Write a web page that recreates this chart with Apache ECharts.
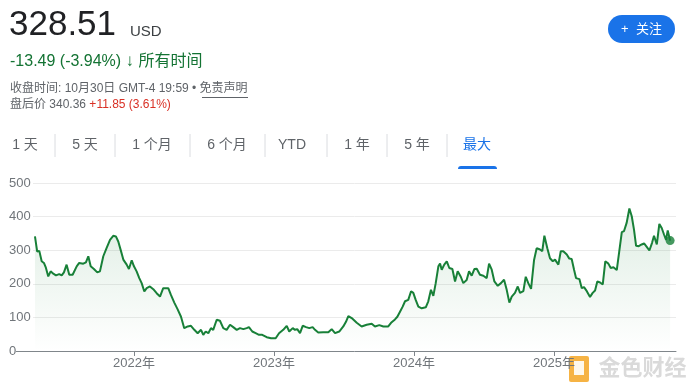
<!DOCTYPE html>
<html>
<head>
<meta charset="utf-8">
<script src="https://cdn.jsdelivr.net/npm/echarts@6/dist/echarts.min.js"></script>
<style>
html,body{margin:0;padding:0;background:#fff;}
#chart{width:700px;height:387px;}
</style>
</head>
<body>
<div id="chart"></div>
<script>
// ---- data (time as decimal year, price in USD) ----
const years = [
2021.293,2021.309,2021.324,2021.341,2021.357,2021.371,2021.388,2021.405,2021.424,2021.443,
2021.466,2021.484,2021.500,2021.519,2021.538,2021.562,2021.591,2021.609,2021.638,2021.657,
2021.674,2021.691,2021.714,2021.738,2021.757,2021.781,2021.805,2021.829,2021.852,2021.871,
2021.888,2021.905,2021.924,2021.948,2021.964,2021.984,2022.000,2022.019,2022.038,2022.055,
2022.074,2022.091,2022.114,2022.138,2022.162,2022.186,2022.209,2022.245,2022.264,2022.288,
2022.312,2022.336,2022.359,2022.384,2022.407,2022.431,2022.455,2022.479,2022.495,2022.512,
2022.531,2022.550,2022.566,2022.591,2022.614,2022.638,2022.662,2022.686,2022.709,2022.734,
2022.757,2022.781,2022.805,2022.821,2022.845,2022.869,2022.893,2022.916,2022.948,2022.979,
2023.012,2023.036,2023.066,2023.091,2023.109,2023.134,2023.150,2023.166,2023.186,2023.205,
2023.229,2023.252,2023.276,2023.293,2023.316,2023.352,2023.388,2023.412,2023.436,2023.466,
2023.495,2023.514,2023.531,2023.555,2023.591,2023.626,2023.662,2023.698,2023.721,2023.752,
2023.781,2023.816,2023.836,2023.864,2023.881,2023.900,2023.919,2023.936,2023.959,2023.979,
2023.995,2024.012,2024.031,2024.055,2024.084,2024.102,2024.121,2024.138,2024.155,2024.174,
2024.186,2024.198,2024.216,2024.234,2024.252,2024.274,2024.293,2024.312,2024.334,2024.352,
2024.376,2024.393,2024.412,2024.431,2024.448,2024.471,2024.495,2024.519,2024.536,2024.555,
2024.574,2024.598,2024.621,2024.643,2024.662,2024.681,2024.698,2024.721,2024.741,2024.757,
2024.781,2024.798,2024.816,2024.836,2024.857,2024.876,2024.900,2024.916,2024.931,2024.952,
2024.971,2024.991,2025.007,2025.031,2025.048,2025.066,2025.091,2025.109,2025.126,2025.143,
2025.157,2025.181,2025.198,2025.214,2025.234,2025.257,2025.276,2025.293,2025.309,2025.329,
2025.348,2025.366,2025.388,2025.405,2025.424,2025.448,2025.466,2025.484,2025.500,2025.519,
2025.538,2025.555,2025.571,2025.586,2025.605,2025.626,2025.643,2025.662,2025.681,2025.700,
2025.714,2025.734,2025.752,2025.769,2025.786,2025.800,2025.812,2025.829
];
const prices = [
341,296,298,267,262,248,222,237,230,225,
229,225,234,257,227,227,252,262,260,264,
282,252,244,234,237,282,307,331,343,341,
326,301,272,257,244,270,252,237,217,202,
177,187,192,184,172,162,187,187,167,144,
124,102,68,73,75,63,53,63,48,58,
53,68,63,93,90,68,63,78,71,63,
68,65,68,71,58,53,48,48,41,38,
38,53,63,75,58,68,63,65,53,75,
71,68,71,63,55,56,56,65,53,58,
73,87,104,98,84,73,78,81,73,77,
73,73,84,94,102,117,132,148,152,178,
173,152,132,127,130,148,182,164,202,252,
260,242,257,267,247,244,207,237,221,202,
211,237,224,244,245,227,224,217,260,242,
207,194,202,212,182,144,162,173,192,173,
178,221,202,185,270,306,302,297,343,306,
276,267,272,257,297,297,287,275,274,242,
217,214,187,190,178,161,173,180,207,204,
198,267,260,247,249,241,297,354,357,382,
424,401,361,313,312,317,320,310,299,322,
343,317,378,366,346,331,359,328.51
];
const yearTicks = [2022, 2023, 2024, 2025];
const tabLabels = ['1 天', '5 天', '1 个月', '6 个月', 'YTD', '1 年', '5 年', '最大'];

// ---- header texts ----
const priceText = '328.51';
const currency = 'USD';
const changeText = '-13.49 (-3.94%)';
const periodText = '所有时间';
const closeText = '收盘时间: 10月30日 GMT-4 19:59 • ';
const disclaimer = '免责声明';
const afterLabel = '盘后价 340.36 ';
const afterChange = '+11.85 (3.61%)';

const FONT = 'Arial, "Liberation Sans", "Noto Sans CJK SC", sans-serif';
const GREEN = '#188038';
const chart = echarts.init(document.getElementById('chart'), null, {renderer: 'canvas'});

const tabCenters = [25, 85, 152, 227, 292, 357, 417, 477];
const sepX = [55, 115, 190, 265, 327, 387, 447];

const graphics = [
  {type: 'text', left: 9, top: 8, style: {text: priceText, font: '35px ' + FONT, fill: '#202124'}},
  {type: 'text', left: 130, top: 24, style: {text: currency, font: '15px ' + FONT, fill: '#3c4043'}},
  {type: 'text', left: 10, top: 53, style: {
    text: '{a|' + changeText + ' }{b|↓}{a| ' + periodText + '}',
    rich: {a: {font: '16px ' + FONT, fill: '#137333'}, b: {font: 'bold 17px ' + FONT, fill: '#137333'}}
  }},
  {type: 'text', left: 10, top: 83, style: {text: closeText + disclaimer, font: '12px ' + FONT, fill: '#5f6368'}},
  {type: 'line', shape: {x1: 202, y1: 97.5, x2: 248, y2: 97.5}, style: {stroke: '#5f6368', lineWidth: 1}},
  {type: 'text', left: 10, top: 99, style: {
    text: '{a|' + afterLabel + '}{b|' + afterChange + '}',
    rich: {a: {font: '12px ' + FONT, fill: '#5f6368'}, b: {font: '12px ' + FONT, fill: '#d93025'}}
  }},
  // follow button
  {type: 'rect', shape: {x: 608, y: 15, width: 67, height: 28, r: 14}, style: {fill: '#1a73e8'}},
  {type: 'text', x: 641.5, y: 29, style: {text: '+  关注', font: '13px ' + FONT, fill: '#fff', align: 'center', verticalAlign: 'middle'}},
  // active tab underline
  {type: 'rect', shape: {x: 458, y: 166, width: 39, height: 3, r: [3, 3, 0, 0]}, style: {fill: '#1a73e8'}},
  // axis line extension to left
  {type: 'line', shape: {x1: 16, y1: 351.5, x2: 33, y2: 351.5}, style: {stroke: '#80868b', lineWidth: 1}},
  // watermark
  {type: 'rect', shape: {x: 569, y: 356, width: 20, height: 26, r: 2}, style: {fill: '#f5a623', opacity: 0.85}},
  {type: 'rect', shape: {x: 574, y: 361, width: 10, height: 14}, style: {fill: '#fff', opacity: 0.9}},
  {type: 'text', left: 598, top: 357, style: {text: '金色财经', font: 'bold 22px ' + FONT, fill: '#dadada', stroke: '#fff', lineWidth: 1}}
];
tabLabels.forEach((t, i) => {
  graphics.push({type: 'text', x: tabCenters[i], y: 145, style: {
    text: t, font: '14px ' + FONT, fill: i === tabLabels.length - 1 ? '#1a73e8' : '#5f6368',
    align: 'center', verticalAlign: 'middle'}});
});
sepX.forEach(x => {
  graphics.push({type: 'line', shape: {x1: x, y1: 134, x2: x, y2: 157}, style: {stroke: '#dadce0', lineWidth: 1}});
});

const seriesData = years.map((t, i) => [t, prices[i]]);
const last = seriesData[seriesData.length - 1];

chart.setOption({
  animation: false,
  backgroundColor: '#fff',
  grid: {left: 33, right: 24, top: 183, bottom: 36},
  xAxis: {
    type: 'value', min: 2021.279, max: 2025.871,
    axisLine: {show: true, lineStyle: {color: '#80868b', width: 1}},
    axisTick: {show: true, length: 5, lineStyle: {color: '#80868b'}, customValues: yearTicks},
    axisLabel: {customValues: yearTicks, formatter: v => v + '年', color: '#70757a', fontSize: 13, fontFamily: FONT, margin: 6},
    splitLine: {show: false}
  },
  yAxis: {
    type: 'value', min: 0, max: 500, interval: 100,
    axisLine: {show: false}, axisTick: {show: false},
    axisLabel: {color: '#70757a', fontSize: 13, fontFamily: FONT, align: 'left', margin: 24},
    splitLine: {lineStyle: {color: '#ebebeb', width: 1}}
  },
  series: [
    {
      type: 'line', data: seriesData, showSymbol: false, symbol: 'none', smooth: false,
      lineStyle: {color: GREEN, width: 2},
      areaStyle: {color: new echarts.graphic.LinearGradient(0, 0, 0, 1, [
        {offset: 0, color: 'rgba(24,128,56,0.20)'},
        {offset: 1, color: 'rgba(24,128,56,0.0)'}
      ])}
    },
    {
      type: 'scatter', data: [last], symbolSize: 9, itemStyle: {color: GREEN}, z: 5
    }
  ],
  graphic: graphics
});
</script>
</body>
</html>
